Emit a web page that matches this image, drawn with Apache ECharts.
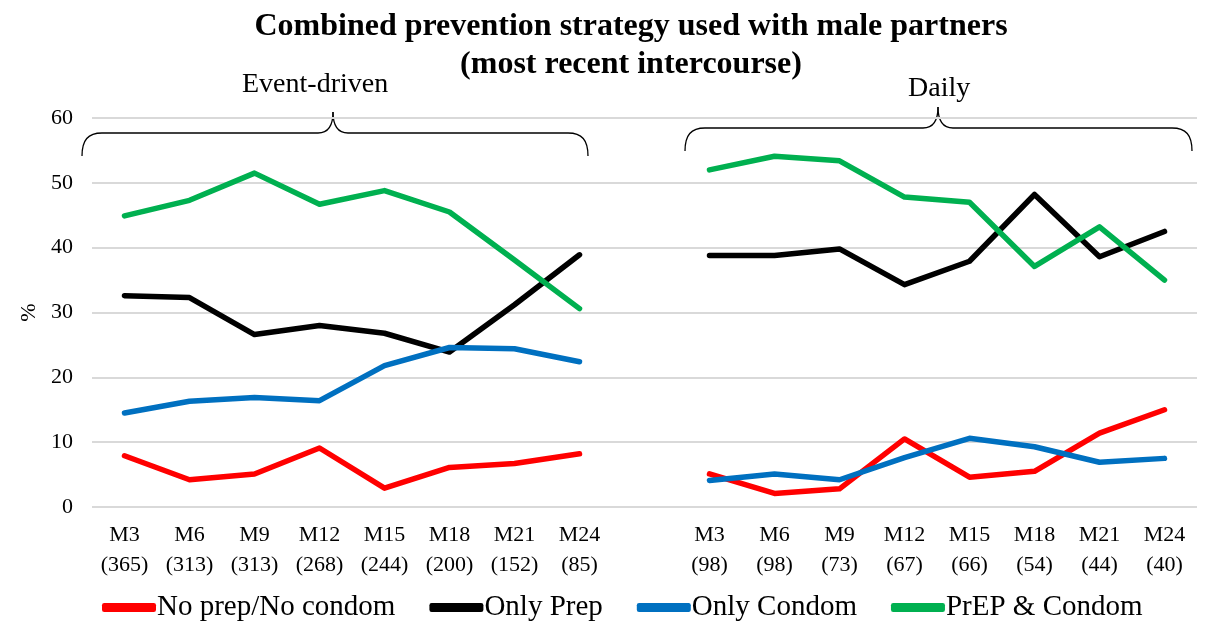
<!DOCTYPE html>
<html><head><meta charset="utf-8">
<script src="https://cdn.jsdelivr.net/npm/echarts@6/dist/echarts.min.js"></script>
<style>html,body{margin:0;padding:0;background:#fff}#c{width:1209px;height:628px}</style>
</head><body><div id="c"></div>
<script>
const months = ['M3','M6','M9','M12','M15','M18','M21','M24'];
const eventN = ['365','313','313','268','244','200','152','85'];
const dailyN = ['98','98','73','67','66','54','44','40'];
const seriesNames = ['No prep/No condom','Only Prep','Only Condom','PrEP & Condom'];
const eventNoPrepNoCondom = [7.9, 4.2, 5.1, 9.1, 2.9, 6.1, 6.7, 8.2];
const eventOnlyPrep      = [32.6, 32.3, 26.6, 28.0, 26.8, 23.9, 31.2, 38.9];
const eventOnlyCondom    = [14.5, 16.3, 16.9, 16.4, 21.8, 24.6, 24.4, 22.4];
const eventPrepCondom    = [44.9, 47.3, 51.5, 46.7, 48.8, 45.5, 38.1, 30.6];
const dailyNoPrepNoCondom = [5.1, 2.1, 2.8, 10.5, 4.6, 5.5, 11.4, 15.0];
const dailyOnlyPrep      = [38.8, 38.8, 39.8, 34.3, 37.9, 48.2, 38.6, 42.5];
const dailyOnlyCondom    = [4.1, 5.1, 4.2, 7.6, 10.6, 9.3, 6.9, 7.5];
const dailyPrepCondom    = [52.0, 54.1, 53.4, 47.8, 47.0, 37.1, 43.2, 35.0];
const colors = ['#ff0000','#000000','#0070c0','#00b050'];

const categories = months.map((m,i)=>m+'\n('+eventN[i]+')').concat([''], months.map((m,i)=>m+'\n('+dailyN[i]+')'));
const join = (a,b)=>a.concat([null], b);
const data = [
  join(eventNoPrepNoCondom, dailyNoPrepNoCondom),
  join(eventOnlyPrep, dailyOnlyPrep),
  join(eventOnlyCondom, dailyOnlyCondom),
  join(eventPrepCondom, dailyPrepCondom)
];
const font = 'Liberation Serif';

function brace(x1, x2, xm, yTop, yBar, yEnd){
  const st = {fill:'none',stroke:'#000',lineWidth:1.3};
  return [
    {type:'bezierCurve',shape:{x1:x1,y1:yEnd,cpx1:x1,cpy1:yBar+7,cpx2:x1+6,cpy2:yBar,x2:x1+20,y2:yBar},style:st},
    {type:'line',shape:{x1:x1+20,y1:yBar,x2:xm-15,y2:yBar},style:st},
    {type:'bezierCurve',shape:{x1:xm-15,y1:yBar,cpx1:xm-5,cpy1:yBar,cpx2:xm,cpy2:yBar-7,x2:xm,y2:yTop},style:st},
    {type:'bezierCurve',shape:{x1:xm,y1:yTop,cpx1:xm,cpy1:yBar-7,cpx2:xm+5,cpy2:yBar,x2:xm+15,y2:yBar},style:st},
    {type:'line',shape:{x1:xm+15,y1:yBar,x2:x2-20,y2:yBar},style:st},
    {type:'bezierCurve',shape:{x1:x2-20,y1:yBar,cpx1:x2-6,cpy1:yBar,cpx2:x2,cpy2:yBar+7,x2:x2,y2:yEnd},style:st}
  ];
}

const chart = echarts.init(document.getElementById('c'));
chart.setOption({
  animation:false,
  textStyle:{fontFamily:font},
  title:{text:'Combined prevention strategy used with male partners\n(most recent intercourse)', left:626, textAlign:'center', top:3,
    textStyle:{fontFamily:font,fontSize:32,fontWeight:'bold',color:'#000',lineHeight:38}},
  legend:{bottom:1,left:97,itemWidth:54,itemHeight:9,itemGap:34,icon:'roundRect',
    textStyle:{fontFamily:font,fontSize:29,color:'#000',padding:[0,0,0,-4]},data:seriesNames},
  grid:{left:92,right:12,top:118,bottom:121},
  xAxis:{type:'category',data:categories,boundaryGap:true,
    axisLine:{show:false},axisTick:{show:false},
    axisLabel:{interval:0,color:'#000',fontFamily:font,fontSize:22,lineHeight:30,margin:13}},
  yAxis:{type:'value',min:0,max:60,interval:10,name:'%',nameLocation:'middle',nameGap:52,nameRotate:90,
    nameTextStyle:{fontFamily:font,fontSize:22,color:'#000'},
    axisLabel:{color:'#000',fontFamily:font,fontSize:22,margin:19},
    splitLine:{lineStyle:{color:'#d9d9d9',width:2}}},
  series:seriesNames.map((n,i)=>({name:n,type:'line',data:data[i],symbol:'none',connectNulls:false,
    color:colors[i],lineStyle:{width:5.5,color:colors[i],cap:'round',join:'round'}})),
  graphic:brace(82,588,333,112,133,156).concat(brace(685,1192,938,107,128,151)).concat([
    {type:'text',left:242,top:71,style:{text:'Event-driven',font:'28px "Liberation Serif"',fill:'#000'}},
    {type:'text',left:908,top:75,style:{text:'Daily',font:'28px "Liberation Serif"',fill:'#000'}}
  ])
});
</script></body></html>
